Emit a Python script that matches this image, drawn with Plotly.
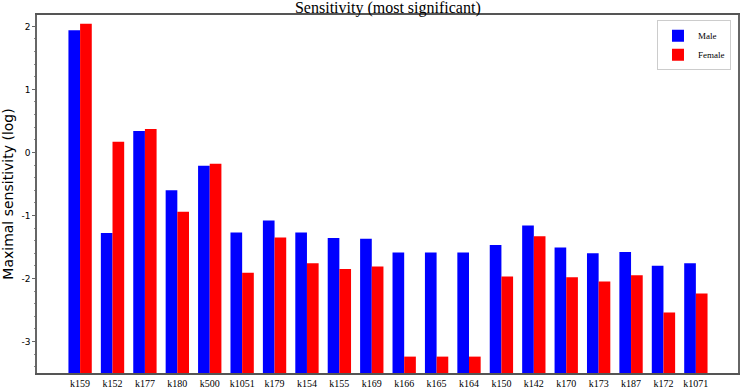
import plotly.graph_objects as go

categories = ["k159", "k152", "k177", "k180", "k500", "k1051", "k179", "k154", "k155", "k169",
              "k166", "k165", "k164", "k150", "k142", "k170", "k173", "k187", "k172", "k1071"]
male = [1.94, -1.28, 0.34, -0.60, -0.21, -1.27, -1.08, -1.27, -1.36, -1.37,
        -1.59, -1.59, -1.59, -1.47, -1.16, -1.51, -1.60, -1.58, -1.80, -1.76]
female = [2.04, 0.17, 0.37, -0.94, -0.18, -1.91, -1.35, -1.76, -1.85, -1.81,
          -3.24, -3.24, -3.24, -1.97, -1.33, -1.98, -2.05, -1.95, -2.54, -2.24]
baseline = -3.5
y_ticks = [-3, -2, -1, 0, 1, 2]
y_tick_labels = ["-3", "-2", "-1", "0", "1", "2"]

fig = go.Figure()
fig.add_trace(go.Bar(x=categories, y=[v - baseline for v in male], base=baseline,
                     name="Male", marker=dict(color="#0000ff", line=dict(width=0))))
fig.add_trace(go.Bar(x=categories, y=[v - baseline for v in female], base=baseline,
                     name="Female", marker=dict(color="#ff0000", line=dict(width=0))))

fig.update_layout(
    width=743, height=391,
    margin=dict(l=37, r=5, t=15, b=18),
    paper_bgcolor="white", plot_bgcolor="white",
    barmode="group", bargap=0.28, bargroupgap=0,
    title=dict(text="Sensitivity (most significant)", x=0.522, xanchor="center",
               yref="container", y=1, yanchor="top", pad=dict(t=2),
               font=dict(family="Liberation Serif", size=16, color="black")),
    legend=dict(x=0.99, xanchor="right", y=0.985, yanchor="top",
                bgcolor="white", bordercolor="#cccccc", borderwidth=1,
                font=dict(family="Liberation Serif", size=9, color="black"),
                itemwidth=30, tracegroupgap=0),
    showlegend=True,
)
fig.update_xaxes(range=[-1.33, 20.3], showline=True, linecolor="#555", linewidth=1.5, mirror=True,
                 ticks="", automargin=False,
                 tickfont=dict(family="Liberation Serif", size=10, color="black"),
                 showgrid=False, tickangle=0)
fig.update_yaxes(range=[-3.5, 2.18], tickvals=y_ticks, ticktext=y_tick_labels,
                 showline=True, linecolor="#666", linewidth=1.5,
                 mirror=True, ticks="outside", ticklen=3, tickcolor="#666", automargin=False,
                 minor=dict(dtick=0.2, ticks="outside", ticklen=1, tickcolor="#888"),
                 tickfont=dict(family="DejaVu Sans", size=9, color="black"),
                 showgrid=False, zeroline=False,
                 title=dict(text="Maximal sensitivity (log)", standoff=10,
                            font=dict(family="DejaVu Sans", size=14, color="black")))

fig.write_html("out.html", config={"displayModeBar": False},
               post_script="document.body.style.margin='0';document.body.style.overflow='hidden';")
